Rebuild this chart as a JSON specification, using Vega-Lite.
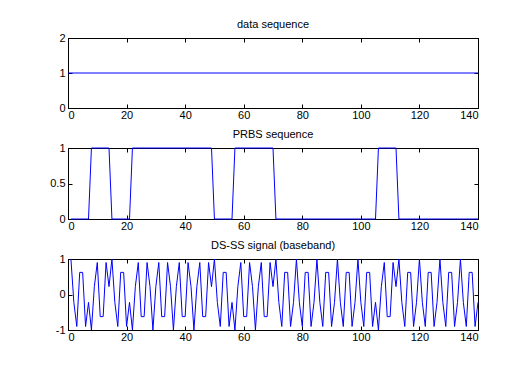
{
  "$schema": "https://vega.github.io/schema/vega-lite/v6.json",
  "autosize": {"type": "pad"},
  "padding": {"left": 49, "top": 18, "right": 5, "bottom": 5},
  "background": "white",
  "datasets": {
    "top": [{"t": 0, "d": 1}, {"t": 140, "d": 1}],
    "samples": [
      {"n":1,"p":0,"s":1},{"n":2,"p":0,"s":-0.2225},{"n":3,"p":0,"s":-0.901},{"n":4,"p":0,"s":0.6235},{"n":5,"p":0,"s":0.6235},{"n":6,"p":0,"s":-0.901},{"n":7,"p":0,"s":-0.2225},
      {"n":8,"p":1,"s":-1},{"n":9,"p":1,"s":0.2225},{"n":10,"p":1,"s":0.901},{"n":11,"p":1,"s":-0.6235},{"n":12,"p":1,"s":-0.6235},{"n":13,"p":1,"s":0.901},{"n":14,"p":1,"s":0.2225},
      {"n":15,"p":0,"s":1},{"n":16,"p":0,"s":-0.2225},{"n":17,"p":0,"s":-0.901},{"n":18,"p":0,"s":0.6235},{"n":19,"p":0,"s":0.6235},{"n":20,"p":0,"s":-0.901},{"n":21,"p":0,"s":-0.2225},
      {"n":22,"p":1,"s":-1},{"n":23,"p":1,"s":0.2225},{"n":24,"p":1,"s":0.901},{"n":25,"p":1,"s":-0.6235},{"n":26,"p":1,"s":-0.6235},{"n":27,"p":1,"s":0.901},{"n":28,"p":1,"s":0.2225},
      {"n":29,"p":1,"s":-1},{"n":30,"p":1,"s":0.2225},{"n":31,"p":1,"s":0.901},{"n":32,"p":1,"s":-0.6235},{"n":33,"p":1,"s":-0.6235},{"n":34,"p":1,"s":0.901},{"n":35,"p":1,"s":0.2225},
      {"n":36,"p":1,"s":-1},{"n":37,"p":1,"s":0.2225},{"n":38,"p":1,"s":0.901},{"n":39,"p":1,"s":-0.6235},{"n":40,"p":1,"s":-0.6235},{"n":41,"p":1,"s":0.901},{"n":42,"p":1,"s":0.2225},
      {"n":43,"p":1,"s":-1},{"n":44,"p":1,"s":0.2225},{"n":45,"p":1,"s":0.901},{"n":46,"p":1,"s":-0.6235},{"n":47,"p":1,"s":-0.6235},{"n":48,"p":1,"s":0.901},{"n":49,"p":1,"s":0.2225},
      {"n":50,"p":0,"s":1},{"n":51,"p":0,"s":-0.2225},{"n":52,"p":0,"s":-0.901},{"n":53,"p":0,"s":0.6235},{"n":54,"p":0,"s":0.6235},{"n":55,"p":0,"s":-0.901},{"n":56,"p":0,"s":-0.2225},
      {"n":57,"p":1,"s":-1},{"n":58,"p":1,"s":0.2225},{"n":59,"p":1,"s":0.901},{"n":60,"p":1,"s":-0.6235},{"n":61,"p":1,"s":-0.6235},{"n":62,"p":1,"s":0.901},{"n":63,"p":1,"s":0.2225},
      {"n":64,"p":1,"s":-1},{"n":65,"p":1,"s":0.2225},{"n":66,"p":1,"s":0.901},{"n":67,"p":1,"s":-0.6235},{"n":68,"p":1,"s":-0.6235},{"n":69,"p":1,"s":0.901},{"n":70,"p":1,"s":0.2225},
      {"n":71,"p":0,"s":1},{"n":72,"p":0,"s":-0.2225},{"n":73,"p":0,"s":-0.901},{"n":74,"p":0,"s":0.6235},{"n":75,"p":0,"s":0.6235},{"n":76,"p":0,"s":-0.901},{"n":77,"p":0,"s":-0.2225},
      {"n":78,"p":0,"s":1},{"n":79,"p":0,"s":-0.2225},{"n":80,"p":0,"s":-0.901},{"n":81,"p":0,"s":0.6235},{"n":82,"p":0,"s":0.6235},{"n":83,"p":0,"s":-0.901},{"n":84,"p":0,"s":-0.2225},
      {"n":85,"p":0,"s":1},{"n":86,"p":0,"s":-0.2225},{"n":87,"p":0,"s":-0.901},{"n":88,"p":0,"s":0.6235},{"n":89,"p":0,"s":0.6235},{"n":90,"p":0,"s":-0.901},{"n":91,"p":0,"s":-0.2225},
      {"n":92,"p":0,"s":1},{"n":93,"p":0,"s":-0.2225},{"n":94,"p":0,"s":-0.901},{"n":95,"p":0,"s":0.6235},{"n":96,"p":0,"s":0.6235},{"n":97,"p":0,"s":-0.901},{"n":98,"p":0,"s":-0.2225},
      {"n":99,"p":0,"s":1},{"n":100,"p":0,"s":-0.2225},{"n":101,"p":0,"s":-0.901},{"n":102,"p":0,"s":0.6235},{"n":103,"p":0,"s":0.6235},{"n":104,"p":0,"s":-0.901},{"n":105,"p":0,"s":-0.2225},
      {"n":106,"p":1,"s":-1},{"n":107,"p":1,"s":0.2225},{"n":108,"p":1,"s":0.901},{"n":109,"p":1,"s":-0.6235},{"n":110,"p":1,"s":-0.6235},{"n":111,"p":1,"s":0.901},{"n":112,"p":1,"s":0.2225},
      {"n":113,"p":0,"s":1},{"n":114,"p":0,"s":-0.2225},{"n":115,"p":0,"s":-0.901},{"n":116,"p":0,"s":0.6235},{"n":117,"p":0,"s":0.6235},{"n":118,"p":0,"s":-0.901},{"n":119,"p":0,"s":-0.2225},
      {"n":120,"p":0,"s":1},{"n":121,"p":0,"s":-0.2225},{"n":122,"p":0,"s":-0.901},{"n":123,"p":0,"s":0.6235},{"n":124,"p":0,"s":0.6235},{"n":125,"p":0,"s":-0.901},{"n":126,"p":0,"s":-0.2225},
      {"n":127,"p":0,"s":1},{"n":128,"p":0,"s":-0.2225},{"n":129,"p":0,"s":-0.901},{"n":130,"p":0,"s":0.6235},{"n":131,"p":0,"s":0.6235},{"n":132,"p":0,"s":-0.901},{"n":133,"p":0,"s":-0.2225},
      {"n":134,"p":0,"s":1},{"n":135,"p":0,"s":-0.2225},{"n":136,"p":0,"s":-0.901},{"n":137,"p":0,"s":0.6235},{"n":138,"p":0,"s":0.6235},{"n":139,"p":0,"s":-0.901},{"n":140,"p":0,"s":-0.2225}
    ]
  },
  "config": {
    "view": {"stroke": "#000", "strokeWidth": 1},
    "axis": {
      "grid": false, "title": null,
      "domainColor": "#000", "tickColor": "#000",
      "tickSize": -4, "labelPadding": 7,
      "labelFont": "Liberation Sans", "labelFontSize": 11, "labelColor": "#000",
      "labelExpr": "'' + datum.value"
    },
    "axisBottom": {"labelPadding": 5},
    "title": {"font": "Liberation Sans", "fontSize": 11, "fontWeight": "normal", "color": "#000", "offset": 2},
    "concat": {"spacing": 7}
  },
  "vconcat": [
    {
      "title": "data sequence",
      "width": 410, "height": 70,
      "data": {"name": "top"},
      "layer": [
        {"mark": {"type": "line", "color": "#0000ff", "strokeWidth": 1},
         "encoding": {
           "x": {"field": "t", "type": "quantitative", "scale": {"domain": [0, 140], "nice": false}, "axis": {"orient": "bottom", "values": [0,20,40,60,80,100,120,140]}},
           "y": {"field": "d", "type": "quantitative", "scale": {"domain": [0, 2], "nice": false}, "axis": {"orient": "left", "values": [0,1,2]}}}},
        {"mark": {"type": "line", "strokeOpacity": 0},
         "encoding": {
           "x": {"field": "t", "type": "quantitative", "axis": {"orient": "top", "labels": false, "values": [0,20,40,60,80,100,120,140]}},
           "y": {"field": "d", "type": "quantitative", "axis": {"orient": "right", "labels": false, "values": [0,1,2]}}}}
      ],
      "resolve": {"axis": {"x": "independent", "y": "independent"}}
    },
    {
      "title": "PRBS sequence",
      "width": 410, "height": 71,
      "data": {"name": "samples"},
      "layer": [
        {"mark": {"type": "line", "color": "#0000ff", "strokeWidth": 1},
         "encoding": {
           "x": {"field": "n", "type": "quantitative", "scale": {"domain": [0, 140], "nice": false}, "axis": {"orient": "bottom", "values": [0,20,40,60,80,100,120,140]}},
           "y": {"field": "p", "type": "quantitative", "scale": {"domain": [0, 1], "nice": false}, "axis": {"orient": "left", "values": [0,0.5,1]}}}},
        {"mark": {"type": "line", "strokeOpacity": 0},
         "encoding": {
           "x": {"field": "n", "type": "quantitative", "axis": {"orient": "top", "labels": false, "values": [0,20,40,60,80,100,120,140]}},
           "y": {"field": "p", "type": "quantitative", "axis": {"orient": "right", "labels": false, "values": [0,0.5,1]}}}}
      ],
      "resolve": {"axis": {"x": "independent", "y": "independent"}}
    },
    {
      "title": "DS-SS signal (baseband)",
      "width": 410, "height": 71,
      "data": {"name": "samples"},
      "layer": [
        {"mark": {"type": "line", "color": "#0000ff", "strokeWidth": 1},
         "encoding": {
           "x": {"field": "n", "type": "quantitative", "scale": {"domain": [0, 140], "nice": false}, "axis": {"orient": "bottom", "values": [0,20,40,60,80,100,120,140]}},
           "y": {"field": "s", "type": "quantitative", "scale": {"domain": [-1, 1], "nice": false}, "axis": {"orient": "left", "values": [-1,0,1]}}}},
        {"mark": {"type": "line", "strokeOpacity": 0},
         "encoding": {
           "x": {"field": "n", "type": "quantitative", "axis": {"orient": "top", "labels": false, "values": [0,20,40,60,80,100,120,140]}},
           "y": {"field": "s", "type": "quantitative", "axis": {"orient": "right", "labels": false, "values": [-1,0,1]}}}}
      ],
      "resolve": {"axis": {"x": "independent", "y": "independent"}}
    }
  ]
}
